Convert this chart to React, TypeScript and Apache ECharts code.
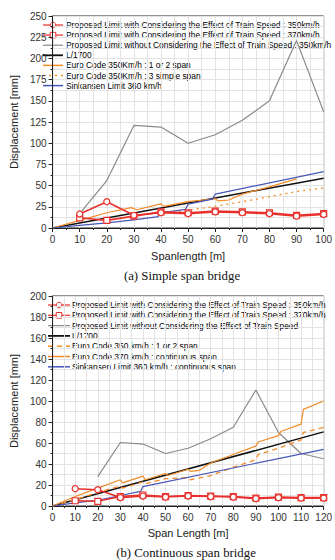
import React, { useEffect, useRef } from "react";
import * as echarts from "echarts";

// ---------- (a) Simple span bridge ----------
const aProposed350: [number, number][] = [[10, 16.5], [20, 31], [30, 15], [40, 18], [50, 17], [60, 19], [70, 18], [80, 17], [90, 14], [100, 16]];
const aProposed370: [number, number][] = [[10, 12], [20, 9], [30, 14], [40, 19], [50, 18], [60, 20], [70, 19], [80, 18], [90, 15], [100, 17]];
const aWithout: [number, number][] = [[10, 17], [20, 56], [30, 121], [40, 119], [50, 100], [60, 110], [70, 127], [80, 150], [90, 221], [100, 137]];
const aL1700: [number, number][] = [[0, 0], [100, 58.8]];
const aEuro12: [number, number][] = [[0, 0], [10, 9], [20, 18], [29, 24], [31, 21.5], [40, 28.5], [41, 25.5], [50, 31], [60, 34.5], [61, 32], [65, 33], [70, 40], [80, 48.5], [90, 58]];
const aEuro3: [number, number][] = [[40, 17], [50, 21], [60, 25.5], [70, 31], [80, 37], [90, 43], [100, 47]];
const aSinkansen: [number, number][] = [[0, 0], [10, 3], [20, 6], [30, 9.5], [39, 13.5], [40, 18], [49, 22], [50, 28], [59, 34], [60, 40], [100, 66.5]];

// ---------- (b) Continuous span bridge ----------
const bProposed350: [number, number][] = [[10, 16.5], [20, 15.5], [30, 8], [40, 9.5], [50, 8.5], [60, 9.5], [70, 9], [80, 8.5], [90, 7], [100, 8], [110, 7.5], [120, 7.5]];
const bProposed370: [number, number][] = [[10, 5], [20, 4.5], [30, 9], [40, 10.5], [50, 9], [60, 10], [70, 9.5], [80, 9], [90, 7.5], [100, 8.5], [110, 8], [120, 8]];
const bWithout: [number, number][] = [[20, 28], [30, 60.5], [40, 59], [50, 50], [60, 55], [70, 64], [80, 75], [90, 110.5], [100, 70], [110, 50], [120, 45]];
const bL1700: [number, number][] = [[0, 0], [120, 70.6]];
const bEuro350: [number, number][] = [[0, 0], [10, 6], [20, 13], [30, 19], [31, 17], [40, 23], [41, 21], [50, 26], [60, 27], [61, 25], [70, 29], [80, 37], [90, 44], [91, 49], [100, 55], [110, 63], [111, 70], [120, 75]];
const bEuro370: [number, number][] = [[0, 0], [10, 9], [20, 17], [30, 25], [31, 22], [40, 28.5], [41, 25], [50, 31], [51, 29], [60, 35], [61, 33], [65, 34], [70, 41], [80, 49], [81, 50], [90, 57], [91, 61], [100, 67], [101, 71], [110, 78], [111, 92], [120, 100]];
const bSinkansen: [number, number][] = [[0, 0], [10, 3], [20, 5.5], [30, 10], [39, 14], [40, 18.5], [120, 54]];

const N350 = "Proposed Limit with Considering the Effect of Train Speed : 350km/h";
const N370 = "Proposed Limit with Considering the Effect of Train Speed : 370km/h";
const NWithoutA = "Proposed Limit without Considering the Effect of Train Speed : 350km/h";
const NWithoutB = "Proposed Limit without Considering the Effect of Train Speed";
const NL = "L/1700";
const NA12 = "Euro Code 350Km/h : 1 or 2 span";
const NA3 = "Euro Code 350Km/h : 3 simple span";
const NASk = "Sinkansen Limit 360 km/h";
const NB350 = "Euro Code 350 km/h : 1 or 2 span";
const NB370 = "Euro Code 370 km/h : continuous span";
const NBSk = "Sinkansen Limit 360 km/h : continuous span";

const RED = "#e8302c";
const GRAY = "#8a8a8a";
const BLACK = "#111111";
const ORANGE = "#f28c28";
const BLUE = "#4657b8";
const GRIDC = "#e3e3e3";

const FONT = "Liberation Sans, Arial, sans-serif";
const DOT = [2, 4];
const DASH = [5, 4];

type LegendItem = { name: string; color: string; dash?: number[]; marker?: "circle" | "rect"; width: number };

const legendA: LegendItem[] = [
  { name: N350, color: RED, marker: "circle", width: 1.2 },
  { name: N370, color: RED, marker: "rect", width: 1.2 },
  { name: NWithoutA, color: GRAY, width: 1.2 },
  { name: NL, color: BLACK, width: 1.8 },
  { name: NA12, color: ORANGE, width: 1.5 },
  { name: NA3, color: ORANGE, dash: DOT, width: 1.5 },
  { name: NASk, color: BLUE, width: 1.5 },
];
const legendB: LegendItem[] = [
  { name: N350, color: RED, marker: "circle", width: 1.2 },
  { name: N370, color: RED, marker: "rect", width: 1.2 },
  { name: NWithoutB, color: GRAY, width: 1.2 },
  { name: NL, color: BLACK, width: 1.8 },
  { name: NB350, color: ORANGE, dash: DASH, width: 1.5 },
  { name: NB370, color: ORANGE, width: 1.5 },
  { name: NBSk, color: BLUE, width: 1.5 },
];

function buildLegend(items: LegendItem[], x0: number, x1: number, tx: number, y0: number, dy: number) {
  const out: any[] = [];
  items.forEach((it, i) => {
    const y = y0 + i * dy;
    out.push({
      type: "line",
      shape: { x1: x0, y1: y, x2: x1, y2: y },
      style: { stroke: it.color, lineWidth: it.width, lineDash: it.dash || null },
      silent: true,
    });
    const cx = (x0 + x1) / 2;
    if (it.marker === "circle") {
      out.push({ type: "circle", shape: { cx, cy: y, r: 2.8 }, style: { fill: "#fff", stroke: it.color, lineWidth: 1 } });
    } else if (it.marker === "rect") {
      out.push({ type: "rect", shape: { x: cx - 2.8, y: y - 2.8, width: 5.6, height: 5.6 }, style: { fill: "#fff", stroke: it.color, lineWidth: 1 } });
    }
    out.push({
      type: "text",
      x: tx,
      y,
      style: {
        text: it.name, fontSize: 8.4, fontFamily: FONT, fill: "#000",
        verticalAlign: "middle", align: "left",
      },
    });
  });
  return out;
}

export default function App() {
  const ref = useRef<HTMLDivElement>(null);
  useEffect(() => {
    if (!ref.current) return;
    const chart = echarts.init(ref.current, null, { renderer: "svg" });

    const xAxisBase = (gi: number, max: number, name: string, nameGap: number) => ({
      type: "value",
      gridIndex: gi,
      min: 0,
      max,
      interval: 10,
      name,
      nameLocation: "middle",
      nameGap,
      nameTextStyle: { fontSize: 11, color: "#222", fontFamily: FONT },
      axisLine: { show: true, onZero: false, lineStyle: { color: "#222", width: 1 } },
      axisTick: { show: true, length: 4, lineStyle: { color: "#222" } },
      minorTick: { show: true, splitNumber: 2, length: 2, lineStyle: { color: "#222" } },
      axisLabel: { fontSize: 10, color: "#333", margin: 6, fontFamily: FONT },
      splitLine: { show: true, lineStyle: { color: GRIDC, width: 1 } },
      minorSplitLine: { show: true, lineStyle: { color: GRIDC, width: 1 } },
    });
    const yAxisBase = (gi: number, max: number, interval: number, nameGap: number) => ({
      type: "value",
      gridIndex: gi,
      min: 0,
      max,
      interval,
      name: "Displacement [mm]",
      nameLocation: "middle",
      nameGap,
      nameTextStyle: { fontSize: 11, color: "#222", fontFamily: FONT },
      axisLine: { show: true, lineStyle: { color: "#222", width: 1 } },
      axisTick: { show: true, length: 4, lineStyle: { color: "#222" } },
      minorTick: { show: true, splitNumber: 2, length: 2, lineStyle: { color: "#222" } },
      axisLabel: { fontSize: 10, color: "#333", margin: 6, fontFamily: FONT },
      splitLine: { show: true, lineStyle: { color: GRIDC, width: 1 } },
      minorSplitLine: { show: true, lineStyle: { color: GRIDC, width: 1 } },
    });

    const line = (name: string, data: [number, number][], gi: number, color: string, width: number, type: any = "solid", symbol: string = "none") => ({
      type: "line",
      name,
      xAxisIndex: gi,
      yAxisIndex: gi,
      data,
      symbol,
      symbolSize: 6,
      showSymbol: symbol !== "none",
      itemStyle: { color: "#ffffff", borderColor: color, borderWidth: 1.2 },
      lineStyle: { color, width, type },
      color,
    });

    chart.setOption({
      animation: false,
      backgroundColor: "#ffffff",
      grid: [
        { left: 41, top: 16, width: 287, height: 212, show: true, borderColor: "#222", borderWidth: 1 },
        { left: 46, top: 296, width: 282, height: 210, show: true, borderColor: "#222", borderWidth: 1 },
      ],
      xAxis: [xAxisBase(0, 100, "Spanlength [m]", 22), xAxisBase(1, 120, "Span Length [m]", 21)],
      yAxis: [yAxisBase(0, 250, 25, 28), yAxisBase(1, 200, 20, 31)],
      series: [
        line(NWithoutA, aWithout, 0, GRAY, 1.2),
        line(NL, aL1700, 0, BLACK, 1.5),
        line(NA12, aEuro12, 0, ORANGE, 1.2),
        line(NA3, aEuro3, 0, ORANGE, 1.3, DOT),
        line(NASk, aSinkansen, 0, BLUE, 1.2),
        line(N370, aProposed370, 0, RED, 1.6, "solid", "rect"),
        line(N350, aProposed350, 0, RED, 1.6, "solid", "circle"),

        line(NWithoutB, bWithout, 1, GRAY, 1.2),
        line(NL, bL1700, 1, BLACK, 1.5),
        line(NB350, bEuro350, 1, ORANGE, 1.3, DASH),
        line(NB370, bEuro370, 1, ORANGE, 1.2),
        line(NBSk, bSinkansen, 1, BLUE, 1.2),
        line(N370, bProposed370, 1, RED, 1.6, "solid", "rect"),
        line(N350, bProposed350, 1, RED, 1.6, "solid", "circle"),
      ],
      graphic: [
        ...buildLegend(legendA, 43, 63, 66, 25, 10.1),
        ...buildLegend(legendB, 48, 70, 72, 305, 10.3),
        { type: "text", x: 182, y: 276, style: { text: "(a) Simple span bridge", fontSize: 12.8, fontFamily: "Liberation Serif, Times New Roman, serif", fill: "#111", align: "center", verticalAlign: "middle" } },
        { type: "text", x: 186, y: 553, style: { text: "(b) Continuous span bridge", fontSize: 12.8, fontFamily: "Liberation Serif, Times New Roman, serif", fill: "#111", align: "center", verticalAlign: "middle" } },
      ],
    });
    return () => chart.dispose();
  }, []);
  return <div ref={ref} style={{ position: "fixed", left: 0, top: 0, width: 335, height: 560, background: "#fff" }} />;
}
